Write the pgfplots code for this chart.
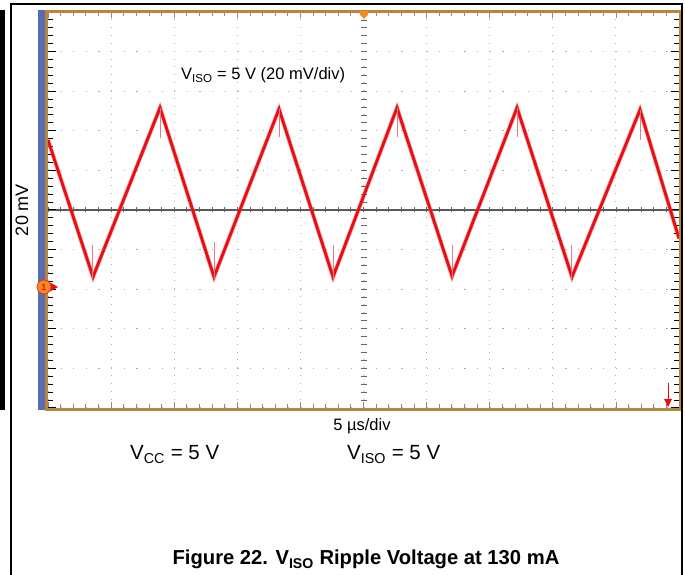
\documentclass[border=0pt]{standalone}
\usepackage{fontspec}
\setmainfont{Liberation Sans}
\usepackage{pgfplots}
\pgfplotsset{compat=1.18}
\definecolor{trace}{RGB}{230,16,20}
\definecolor{spike}{RGB}{232,120,140}
\definecolor{brownb}{RGB}{184,134,62}
\definecolor{bluestrip}{RGB}{88,108,176}
\definecolor{gridc}{RGB}{175,175,175}
\definecolor{orangem}{RGB}{245,140,30}
\begin{document}
\begin{tikzpicture}
\useasboundingbox (0pt,0pt) rectangle (685pt,575pt);
% axis A: grid and x ticks
\begin{axis}[at={(48pt,167pt)}, anchor=south west,
  scale only axis, width=631pt, height=396pt,
  xmin=0, xmax=10, ymin=-5, ymax=5,
  xtick={0,1,...,10}, ytick={-5,-4,...,5},
  xticklabels={}, yticklabels={},
  minor x tick num=4,
  tick align=inside,
  major tick length=6pt, minor tick length=4pt,
  xtick style={gridc!80!black, line width=0.8pt},
  ytick style={draw=none},
  grid=major,
  every axis x grid/.append style={gridc, line width=1pt, dash pattern=on 1pt off 6.92pt},
  every axis y grid/.append style={gridc, line width=1pt, dash pattern=on 1.2pt off 11.42pt},
  axis line style={draw=none}]
\addplot[draw=none] coordinates {(0,0)};
\end{axis}
% centre graticule
\begin{scope}[x=1pt,y=1pt]
\foreach \k in {0,...,50} \draw[gray!80!black, line width=0.8pt] (360.5,{167+\k*7.92}) -- (366.5,{167+\k*7.92});
\foreach \k in {0,...,50} \draw[gray!80!black, line width=0.8pt] ({48+\k*12.62},362.5) -- ({48+\k*12.62},367.5);
\draw[gray!70!black, line width=1.4pt] (48,365) -- (679,365);
\end{scope}
% axis B: y ticks and trace
\begin{axis}[at={(48pt,167pt)}, anchor=south west,
  scale only axis, width=631pt, height=396pt,
  xmin=0, xmax=10, ymin=-5, ymax=5,
  xtick=\empty, ytick={-5,-4,...,5},
  yticklabels={},
  minor y tick num=4,
  tick align=inside,
  major tick length=8pt, minor tick length=5pt,
  ytick style={black, line width=1pt},
  axis line style={draw=none},
  clip=true]
\addplot[trace!70, opacity=0.55, line width=4.2pt, line join=miter] coordinates {
(0,1.77) (0.713,-1.69) (1.775,2.58) (2.631,-1.69) (3.661,2.55) (4.517,-1.69)
(5.531,2.58) (6.403,-1.67) (7.433,2.58) (8.304,-1.69) (9.382,2.53) (10,-0.72)};
\addplot[trace, line width=2.8pt, line join=miter] coordinates {
(0,1.77) (0.713,-1.69) (1.775,2.58) (2.631,-1.69) (3.661,2.55) (4.517,-1.69)
(5.531,2.58) (6.403,-1.67) (7.433,2.58) (8.304,-1.69) (9.382,2.53) (10,-0.72)};
\addplot[spike, line width=1pt, unbounded coords=jump] coordinates {
(0.713,-1.75) (0.713,-0.88) (0.713,nan)
(1.775,2.58) (1.775,1.82) (1.775,nan)
(2.631,-1.75) (2.631,-0.80) (2.631,nan)
(3.661,2.55) (3.661,1.85) (3.661,nan)
(4.517,-1.75) (4.517,-0.88) (4.517,nan)
(5.531,2.58) (5.531,1.85) (5.531,nan)
(6.403,-1.72) (6.403,-0.88) (6.403,nan)
(7.433,2.58) (7.433,1.85) (7.433,nan)
(8.304,-1.75) (8.304,-0.88) (8.304,nan)
(9.382,2.53) (9.382,1.77)};
\end{axis}
\begin{scope}[x=1pt,y=1pt]
% scope frame
\fill[bluestrip] (38,165) rectangle (46,565);
\draw[brownb, line width=3pt] (46.5,165.5) rectangle (680.5,563.5);
\draw[brownb, line width=2pt] (46,165.5) -- (681,165.5);
% outer frame
\fill[black] (0,165) rectangle (5,565);
\draw[black, line width=1.5pt] (11,0) -- (11,571) -- (682,571) -- (682,0);
% trigger marker
\fill[orangem] (360,564) -- (368,564) -- (368,560) -- (364,556) -- (360,560) -- cycle;
% ground marker
\fill[trace] (50,283.5) -- (58,288) -- (50,292.5) -- cycle;
\draw[trace, line width=1pt] (44,288) -- (52,288);
\filldraw[fill=orangem, draw=trace!70!orangem, line width=0.8pt] (44,288) circle (7);
\node[text=trace, font=\fontsize{9}{9}\selectfont\bfseries] at (44,288) {1};
% bottom right arrow
\draw[trace, line width=1pt] (668,192) -- (668,176);
\fill[trace] (664,176) -- (672,176) -- (668,168) -- cycle;
% texts
\node[anchor=base west, inner sep=0pt, font=\fontsize{16.5}{18}\selectfont] at (181,495) {V\textsubscript{ISO} = 5 V (20 mV/div)};
\node[rotate=90, inner sep=0pt, font=\fontsize{18}{20}\selectfont] at (22,365) {20 mV};
\node[anchor=base, inner sep=0pt, font=\fontsize{16.5}{18}\selectfont] at (362,144) {5 µs/div};
\node[anchor=base west, inner sep=0pt, font=\fontsize{20.5}{22}\selectfont] at (130,115) {V\textsubscript{CC} = 5 V};
\node[anchor=base west, inner sep=0pt, font=\fontsize{20.5}{22}\selectfont] at (347,115) {V\textsubscript{ISO} = 5 V};
\node[anchor=base, inner sep=0pt, font=\fontsize{20.2}{22}\selectfont\bfseries] at (366,10) {Figure 22. V\textsubscript{ISO} Ripple Voltage at 130 mA};
\end{scope}
\end{tikzpicture}
\end{document}
